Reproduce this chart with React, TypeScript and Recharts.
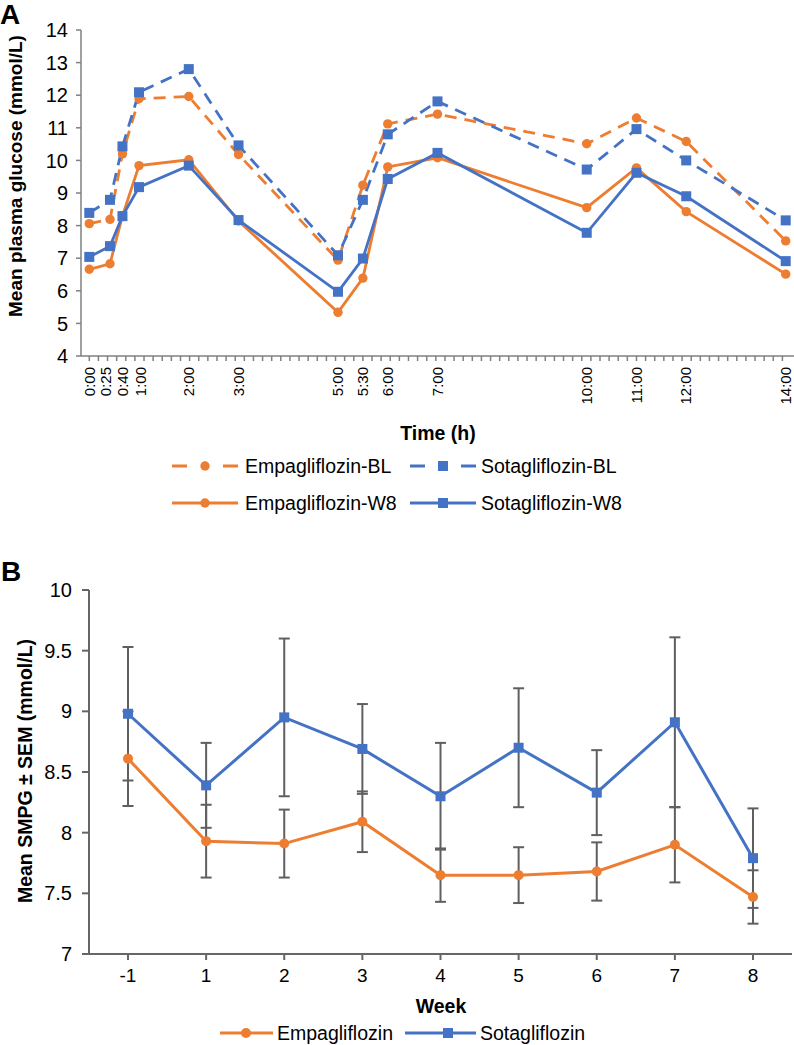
import React from 'react';
import { LineChart, Line, XAxis, YAxis, ErrorBar } from 'recharts';

// ---------- Panel A data ----------
const timeMinutes = [0, 25, 40, 60, 120, 180, 300, 330, 360, 420, 600, 660, 720, 840];
const timeLabels = ['0:00', '0:25', '0:40', '1:00', '2:00', '3:00', '5:00', '5:30', '6:00', '7:00', '10:00', '11:00', '12:00', '14:00'];
const empaBL = [8.06, 8.19, 10.2, 11.89, 11.96, 10.18, 6.94, 9.24, 11.12, 11.42, 10.51, 11.3, 10.58, 7.53];
const sotaBL = [8.39, 8.79, 10.43, 12.09, 12.8, 10.46, 7.09, 8.79, 10.8, 11.81, 9.72, 10.96, 10.0, 8.16];
const empaW8 = [6.66, 6.83, 8.3, 9.84, 10.02, 8.14, 5.34, 6.39, 9.8, 10.08, 8.55, 9.77, 8.43, 6.51];
const sotaW8 = [7.04, 7.37, 8.29, 9.18, 9.84, 8.17, 5.97, 6.99, 9.43, 10.23, 7.78, 9.62, 8.9, 6.91];
const glucoseTicks = [4, 5, 6, 7, 8, 9, 10, 11, 12, 13, 14];

// ---------- Panel B data ----------
const weeks = ['-1', '1', '2', '3', '4', '5', '6', '7', '8'];
const empaSMPG = [8.61, 7.93, 7.91, 8.09, 7.65, 7.65, 7.68, 7.9, 7.47];
const empaSEM = [0.39, 0.3, 0.28, 0.25, 0.22, 0.23, 0.24, 0.31, 0.22];
const sotaSMPG = [8.98, 8.39, 8.95, 8.69, 8.3, 8.7, 8.33, 8.91, 7.79];
const sotaSEM = [0.55, 0.35, 0.65, 0.37, 0.44, 0.49, 0.35, 0.7, 0.41];
const smpgTicks = [7, 7.5, 8, 8.5, 9, 9.5, 10];

const ORANGE = '#ED7D31';
const BLUE = '#4472C4';
const FONT = '"Liberation Sans", Arial, sans-serif';

// small pixel nudges for crowded rotated labels (style only)
const labelNudge: Record<string, number> = { '0:25': -4, '1:00': 2 };

const dataA = timeMinutes.map((t, i) => ({
  t,
  empaBL: empaBL[i],
  sotaBL: sotaBL[i],
  empaW8: empaW8[i],
  sotaW8: sotaW8[i],
}));

const dataB = weeks.map((w, i) => ({
  week: w,
  empa: empaSMPG[i],
  empaErr: empaSEM[i],
  sota: sotaSMPG[i],
  sotaErr: sotaSEM[i],
}));

// minor tick marks of the time axis (no labels)
const minorTicks = Array.from({ length: 77 }, (_, i) => i * 11);
const minorSet = new Set(minorTicks);
const allTimeTicks = Array.from(new Set([...minorTicks, ...timeMinutes])).sort((a, b) => a - b);

const circleDot = (r: number, color: string) => (props: any) => {
  const { cx, cy, index } = props;
  if (cx == null || cy == null) return <g key={`c-${index}`} />;
  return <circle key={`c-${index}`} cx={cx} cy={cy} r={r} fill={color} stroke="none" />;
};

const squareDot = (s: number, color: string) => (props: any) => {
  const { cx, cy, index } = props;
  if (cx == null || cy == null) return <g key={`s-${index}`} />;
  return <rect key={`s-${index}`} x={cx - s / 2} y={cy - s / 2} width={s} height={s} fill={color} stroke="none" />;
};

const TimeTick = (props: any) => {
  const { x, y, payload } = props;
  const v = payload.value;
  const i = timeMinutes.indexOf(v);
  const ly = y + 11;
  const lx = i >= 0 ? x + (labelNudge[timeLabels[i]] || 0) : x;
  return (
    <g>
      {minorSet.has(v) && <line x1={x} x2={x} y1={y} y2={y + 5} stroke="#808080" strokeWidth={1.5} />}
      {i >= 0 && (
        <text
          x={lx}
          y={ly}
          transform={`rotate(-90 ${lx} ${ly})`}
          textAnchor="end"
          dy="0.35em"
          fontSize={15}
          fontFamily={FONT}
          fill="#000"
        >
          {timeLabels[i]}
        </text>
      )}
    </g>
  );
};

export default function App() {
  return (
    <div style={{ position: 'absolute', left: 0, top: 0, width: 794, height: 1045, background: '#fff', fontFamily: FONT }}>
      <div style={{ position: 'absolute', left: 0, top: 0 }}>
        <LineChart width={794} height={530} data={dataA} margin={{ top: 30, right: 0, bottom: 114, left: 0 }}>
          <XAxis
            type="number"
            dataKey="t"
            domain={[-10, 850]}
            ticks={allTimeTicks}
            interval={0}
            tick={<TimeTick />}
            tickLine={false}
            tickSize={0}
            tickMargin={0}
            height={60}
            axisLine={{ stroke: '#808080', strokeWidth: 1.5 }}
          />
          <YAxis
            type="number"
            domain={[4, 14]}
            ticks={glucoseTicks}
            interval={0}
            width={81}
            tickSize={5}
            tickMargin={8}
            tick={{ fontSize: 20, fill: '#000', fontFamily: FONT }}
            axisLine={{ stroke: '#808080', strokeWidth: 1.5 }}
            tickLine={{ stroke: '#808080', strokeWidth: 1.5 }}
          />
          <Line
            dataKey="empaBL"
            stroke={ORANGE}
            strokeWidth={2.8}
            strokeDasharray="12 8"
            dot={circleDot(4.7, ORANGE)}
            activeDot={false}
            isAnimationActive={false}
          />
          <Line
            dataKey="sotaBL"
            stroke={BLUE}
            strokeWidth={2.8}
            strokeDasharray="12 8"
            dot={squareDot(10, BLUE)}
            activeDot={false}
            isAnimationActive={false}
          />
          <Line
            dataKey="empaW8"
            stroke={ORANGE}
            strokeWidth={2.8}
            dot={circleDot(4.7, ORANGE)}
            activeDot={false}
            isAnimationActive={false}
          />
          <Line
            dataKey="sotaW8"
            stroke={BLUE}
            strokeWidth={2.8}
            dot={squareDot(10, BLUE)}
            activeDot={false}
            isAnimationActive={false}
          />
        </LineChart>
      </div>

      <div style={{ position: 'absolute', left: 0, top: 540 }}>
        <LineChart width={794} height={505} data={dataB} margin={{ top: 50, right: 2, bottom: 61, left: 0 }}>
          <XAxis
            type="category"
            dataKey="week"
            padding={{ left: 39, right: 39 }}
            interval={0}
            height={30}
            tickSize={6}
            tickMargin={9}
            tick={{ fontSize: 19, fill: '#000', fontFamily: FONT }}
            axisLine={{ stroke: '#666', strokeWidth: 2 }}
            tickLine={{ stroke: '#666', strokeWidth: 2 }}
          />
          <YAxis
            type="number"
            domain={[7, 10]}
            ticks={smpgTicks}
            interval={0}
            width={89}
            tickSize={7}
            tickMargin={10}
            tick={{ fontSize: 20, fill: '#000', fontFamily: FONT }}
            axisLine={{ stroke: '#666', strokeWidth: 2 }}
            tickLine={{ stroke: '#666', strokeWidth: 2 }}
          />
          <Line
            dataKey="empa"
            stroke={ORANGE}
            strokeWidth={3}
            dot={circleDot(5, ORANGE)}
            activeDot={false}
            isAnimationActive={false}
          >
            <ErrorBar dataKey="empaErr" direction="y" width={5.5} stroke="#5f5f5f" strokeWidth={2} isAnimationActive={false} />
          </Line>
          <Line
            dataKey="sota"
            stroke={BLUE}
            strokeWidth={3}
            dot={squareDot(10, BLUE)}
            activeDot={false}
            isAnimationActive={false}
          >
            <ErrorBar dataKey="sotaErr" direction="y" width={5.5} stroke="#5f5f5f" strokeWidth={2} isAnimationActive={false} />
          </Line>
        </LineChart>
      </div>

      <svg
        width={794}
        height={1045}
        style={{ position: 'absolute', left: 0, top: 0, pointerEvents: 'none' }}
        fontFamily={FONT}
      >
        {/* Panel A labels */}
        <text x={0} y={24} fontSize={28} fontWeight="bold" fill="#000">A</text>
        <text
          x={15.5}
          y={176}
          transform="rotate(-90 15.5 176)"
          textAnchor="middle"
          dy="0.35em"
          fontSize={19}
          fontWeight="bold"
          fill="#000"
        >
          Mean plasma glucose (mmol/L)
        </text>
        <text x={438} y={433} textAnchor="middle" dy="0.35em" fontSize={19.5} fontWeight="bold" fill="#000">
          Time (h)
        </text>

        {/* Panel A legend */}
        <g>
          <line x1={172} x2={187} y1={466} y2={466} stroke={ORANGE} strokeWidth={3} />
          <line x1={223} x2={238} y1={466} y2={466} stroke={ORANGE} strokeWidth={3} />
          <circle cx={205} cy={466} r={4.7} fill={ORANGE} />
          <text x={245} y={466} dy="0.35em" fontSize={19.5} fill="#000">Empagliflozin-BL</text>

          <line x1={410} x2={425} y1={466} y2={466} stroke={BLUE} strokeWidth={3} />
          <line x1={461} x2={476} y1={466} y2={466} stroke={BLUE} strokeWidth={3} />
          <rect x={438} y={461} width={10} height={10} fill={BLUE} />
          <text x={481} y={466} dy="0.35em" fontSize={19.5} fill="#000">Sotagliflozin-BL</text>

          <line x1={172} x2={238} y1={503} y2={503} stroke={ORANGE} strokeWidth={3} />
          <circle cx={205} cy={503} r={4.7} fill={ORANGE} />
          <text x={245} y={503} dy="0.35em" fontSize={19.5} fill="#000">Empagliflozin-W8</text>

          <line x1={410} x2={476} y1={503} y2={503} stroke={BLUE} strokeWidth={3} />
          <rect x={438} y={498} width={10} height={10} fill={BLUE} />
          <text x={481} y={503} dy="0.35em" fontSize={19.5} fill="#000">Sotagliflozin-W8</text>
        </g>

        {/* Panel B labels */}
        <text x={1} y={581} fontSize={28} fontWeight="bold" fill="#000">B</text>
        <text
          x={25}
          y={771}
          transform="rotate(-90 25 771)"
          textAnchor="middle"
          dy="0.35em"
          fontSize={19.5}
          fontWeight="bold"
          fill="#000"
        >
          Mean SMPG ± SEM (mmol/L)
        </text>
        <text x={441} y={1006} textAnchor="middle" dy="0.35em" fontSize={19.5} fontWeight="bold" fill="#000">
          Week
        </text>

        {/* Panel B legend */}
        <g>
          <line x1={220} x2={273} y1={1033} y2={1033} stroke={ORANGE} strokeWidth={3} />
          <circle cx={246} cy={1033} r={5} fill={ORANGE} />
          <text x={277} y={1033} dy="0.35em" fontSize={19.5} fill="#000">Empagliflozin</text>

          <line x1={405} x2={476} y1={1033} y2={1033} stroke={BLUE} strokeWidth={3} />
          <rect x={443} y={1028} width={10} height={10} fill={BLUE} />
          <text x={480} y={1033} dy="0.35em" fontSize={19.5} fill="#000">Sotagliflozin</text>
        </g>
      </svg>
    </div>
  );
}
